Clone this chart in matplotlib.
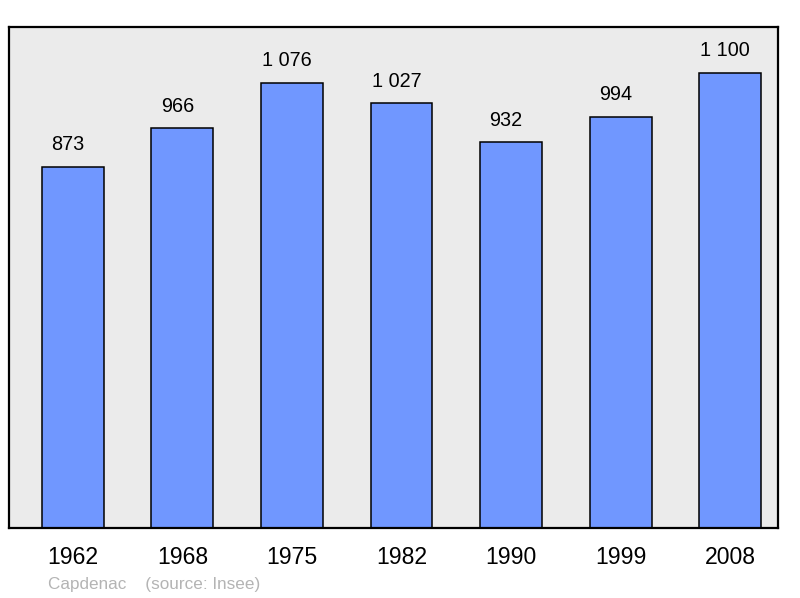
import matplotlib
matplotlib.use("Agg")
import matplotlib.pyplot as plt

plt.rcParams['font.family'] = ['Liberation Sans', 'DejaVu Sans']

years = ['1962', '1968', '1975', '1982', '1990', '1999', '2008']
population = [873, 966, 1076, 1027, 932, 994, 1100]
value_labels = ['873', '966', '1 076', '1 027', '932', '994', '1 100']

fig = plt.figure(figsize=(8, 5.98), dpi=100)
ax = fig.add_axes([9 / 800, 70 / 598, 769 / 800, 501 / 598])
ax.set_facecolor('#ebebeb')

x = list(range(len(years)))
bars = ax.bar(x, population, width=0.566, color='#7097ff',
              edgecolor='black', linewidth=1.1, zorder=2)

# value labels above each bar (slightly left of centre, as in the original)
for xi, v, lab in zip(x, population, value_labels):
    ax.annotate(lab, (xi, v), xytext=(-3.5, 9), textcoords='offset points',
                ha='center', va='bottom', fontsize=14.3, color='black')

ax.set_xlim(-0.584, 6.438)
ax.set_ylim(0, 1211)
ax.set_yticks([])
ax.set_xticks(x)
ax.set_xticklabels(years, fontsize=16.6)
ax.tick_params(axis='x', length=0, pad=13)
for s in ax.spines.values():
    s.set_linewidth(1.6)
    s.set_color('black')

fig.text(48 / 800, 1 - 584 / 598, 'Capdenac    (source: Insee)',
         fontsize=12.3, color='#b4b4b4', ha='left', va='center')

fig.savefig('out.png', dpi=100)
